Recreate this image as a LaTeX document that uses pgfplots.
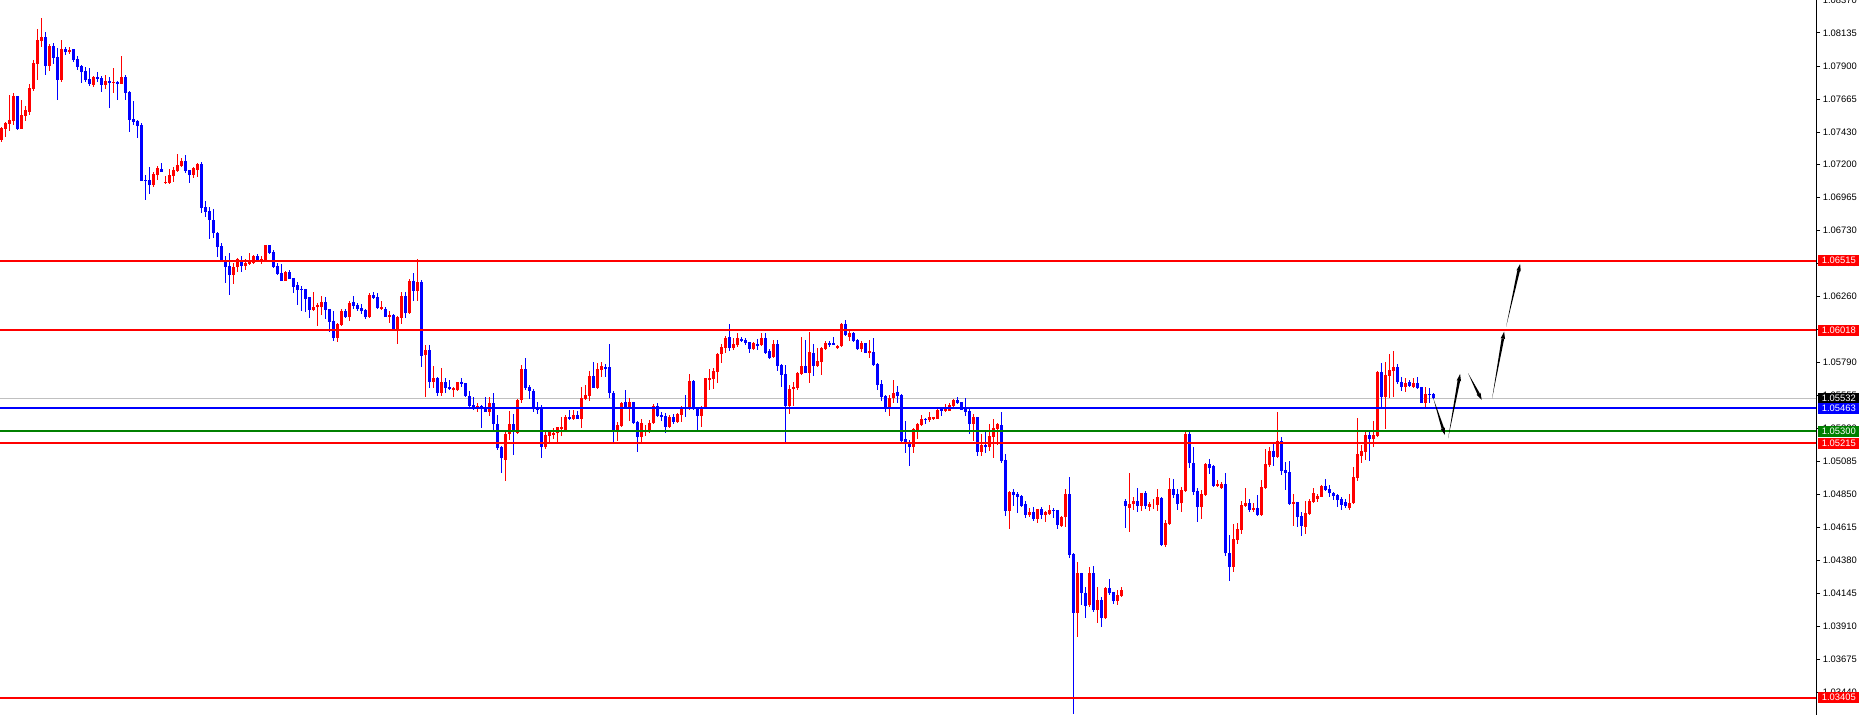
\documentclass[border=0pt]{standalone}
\usepackage{pgfplots}
\pgfplotsset{compat=1.18}
\usepackage{pgfplotstable}
\usetikzlibrary{calc}
\usepackage{fontspec}
\setmainfont{Liberation Sans}
\definecolor{mtred}{RGB}{255,0,0}
\definecolor{mtblue}{RGB}{0,0,255}
\definecolor{mtgreen}{RGB}{0,128,0}
\definecolor{mtgray}{RGB}{192,192,192}
\newcommand{\lblfont}{\fontsize{4.7}{5}\selectfont}

\pgfplotstableread{
k o h l c
0 1.07374 1.07468 1.07362 1.07457
1 1.07452 1.07502 1.07397 1.07492
2 1.07487 1.07694 1.07440 1.07516
3 1.07511 1.07706 1.07480 1.07687
4 1.07687 1.07687 1.07445 1.07452
5 1.07452 1.07658 1.07452 1.07552
6 1.07547 1.07616 1.07511 1.07587
7 1.07575 1.07772 1.07552 1.07744
8 1.07737 1.07943 1.07725 1.07922
9 1.07915 1.08164 1.07801 1.08085
10 1.08081 1.08242 1.08038 1.08107
11 1.08107 1.08142 1.07836 1.07903
12 1.07903 1.08057 1.07865 1.08043
13 1.08043 1.08064 1.07915 1.07960
14 1.07964 1.08028 1.07658 1.07801
15 1.07801 1.08085 1.07786 1.08021
16 1.08021 1.08033 1.07979 1.07999
17 1.07999 1.08033 1.07986 1.08014
18 1.08021 1.08021 1.07929 1.07943
19 1.07948 1.07971 1.07872 1.07896
20 1.07900 1.07907 1.07779 1.07858
21 1.07865 1.07893 1.07786 1.07801
22 1.07808 1.07886 1.07759 1.07772
23 1.07765 1.07829 1.07751 1.07820
24 1.07822 1.07858 1.07786 1.07808
25 1.07815 1.07829 1.07715 1.07765
26 1.07765 1.07836 1.07737 1.07794
27 1.07794 1.07822 1.07601 1.07779
28 1.07782 1.07886 1.07708 1.07786
29 1.07789 1.07794 1.07658 1.07775
30 1.07772 1.07971 1.07772 1.07822
31 1.07822 1.07836 1.07658 1.07708
32 1.07715 1.07722 1.07431 1.07516
33 1.07523 1.07651 1.07480 1.07502
34 1.07509 1.07516 1.07388 1.07473
35 1.07480 1.07495 1.07082 1.07082
36 1.07089 1.07124 1.06947 1.07082
37 1.07089 1.07181 1.06989 1.07053
38 1.07053 1.07146 1.07039 1.07132
39 1.07124 1.07188 1.07089 1.07174
40 1.07167 1.07210 1.07146 1.07146
41 1.07068 1.07117 1.07060 1.07075
42 1.07068 1.07167 1.07060 1.07124
43 1.07117 1.07181 1.07075 1.07160
44 1.07153 1.07274 1.07146 1.07196
45 1.07188 1.07245 1.07181 1.07224
46 1.07224 1.07267 1.07139 1.07153
47 1.07160 1.07160 1.07068 1.07124
48 1.07124 1.07181 1.07103 1.07174
49 1.07160 1.07210 1.07110 1.07203
50 1.07203 1.07217 1.06852 1.06887
51 1.06899 1.06942 1.06828 1.06861
52 1.06868 1.06894 1.06669 1.06804
53 1.06804 1.06883 1.06674 1.06709
54 1.06709 1.06716 1.06543 1.06614
55 1.06619 1.06643 1.06508 1.06520
56 1.06520 1.06548 1.06358 1.06472
57 1.06477 1.06572 1.06270 1.06413
58 1.06413 1.06496 1.06349 1.06467
59 1.06467 1.06534 1.06437 1.06524
60 1.06520 1.06550 1.06437 1.06477
61 1.06479 1.06524 1.06448 1.06501
62 1.06491 1.06567 1.06486 1.06510
63 1.06501 1.06558 1.06498 1.06548
64 1.06548 1.06562 1.06508 1.06520
65 1.06512 1.06546 1.06493 1.06529
66 1.06512 1.06624 1.06508 1.06624
67 1.06624 1.06624 1.06562 1.06572
68 1.06576 1.06591 1.06463 1.06472
69 1.06477 1.06496 1.06413 1.06418
70 1.06425 1.06491 1.06372 1.06372
71 1.06372 1.06444 1.06372 1.06434
72 1.06434 1.06448 1.06382 1.06384
73 1.06389 1.06391 1.06287 1.06330
74 1.06342 1.06365 1.06199 1.06306
75 1.06313 1.06334 1.06159 1.06308
76 1.06313 1.06313 1.06152 1.06244
77 1.06254 1.06254 1.06104 1.06164
78 1.06164 1.06292 1.06161 1.06185
79 1.06183 1.06211 1.06050 1.06202
80 1.06183 1.06263 1.06128 1.06221
81 1.06221 1.06259 1.06097 1.06164
82 1.06168 1.06168 1.06009 1.06081
83 1.06085 1.06159 1.05943 1.05967
84 1.05967 1.06074 1.05938 1.06064
85 1.06057 1.06168 1.06052 1.06157
86 1.06157 1.06171 1.06104 1.06116
87 1.06111 1.06230 1.06083 1.06213
88 1.06218 1.06263 1.06168 1.06192
89 1.06197 1.06216 1.06157 1.06171
90 1.06178 1.06206 1.06135 1.06154
91 1.06161 1.06168 1.06100 1.06111
92 1.06111 1.06282 1.06109 1.06270
93 1.06270 1.06292 1.06242 1.06251
94 1.06254 1.06282 1.06168 1.06178
95 1.06168 1.06230 1.06164 1.06183
96 1.06173 1.06183 1.06114 1.06116
97 1.06116 1.06159 1.06069 1.06128
98 1.06128 1.06133 1.06021 1.06026
99 1.06026 1.06123 1.05924 1.06114
100 1.06109 1.06289 1.06064 1.06261
101 1.06266 1.06289 1.06109 1.06140
102 1.06145 1.06384 1.06135 1.06372
103 1.06372 1.06427 1.06230 1.06301
104 1.06301 1.06530 1.06230 1.06365
105 1.06365 1.06377 1.05756 1.05839
106 1.05843 1.05915 1.05547 1.05879
107 1.05879 1.05915 1.05611 1.05654
108 1.05654 1.05767 1.05611 1.05682
109 1.05682 1.05689 1.05552 1.05575
110 1.05575 1.05748 1.05554 1.05654
111 1.05649 1.05682 1.05575 1.05611
112 1.05618 1.05665 1.05594 1.05599
113 1.05592 1.05618 1.05547 1.05606
114 1.05594 1.05654 1.05590 1.05651
115 1.05651 1.05680 1.05618 1.05639
116 1.05644 1.05644 1.05547 1.05552
117 1.05554 1.05587 1.05476 1.05480
118 1.05487 1.05547 1.05452 1.05471
119 1.05471 1.05499 1.05440 1.05483
120 1.05480 1.05487 1.05326 1.05471
121 1.05476 1.05547 1.05440 1.05440
122 1.05440 1.05547 1.05409 1.05504
123 1.05504 1.05571 1.05310 1.05352
124 1.05352 1.05416 1.05167 1.05184
125 1.05191 1.05196 1.05006 1.05108
126 1.05096 1.05310 1.04949 1.05281
127 1.05281 1.05447 1.05238 1.05352
128 1.05352 1.05423 1.05133 1.05310
129 1.05291 1.05528 1.05281 1.05523
130 1.05523 1.05772 1.05499 1.05744
131 1.05744 1.05822 1.05594 1.05611
132 1.05616 1.05630 1.05528 1.05587
133 1.05587 1.05601 1.05440 1.05457
134 1.05464 1.05506 1.05423 1.05452
135 1.05476 1.05487 1.05113 1.05191
136 1.05191 1.05298 1.05172 1.05274
137 1.05269 1.05310 1.05222 1.05298
138 1.05276 1.05321 1.05245 1.05291
139 1.05286 1.05333 1.05222 1.05329
140 1.05314 1.05404 1.05269 1.05333
141 1.05310 1.05416 1.05305 1.05404
142 1.05404 1.05452 1.05381 1.05390
143 1.05390 1.05452 1.05388 1.05416
144 1.05416 1.05447 1.05388 1.05390
145 1.05390 1.05613 1.05326 1.05537
146 1.05533 1.05630 1.05523 1.05559
147 1.05552 1.05729 1.05516 1.05694
148 1.05694 1.05796 1.05606 1.05611
149 1.05611 1.05789 1.05606 1.05741
150 1.05737 1.05794 1.05689 1.05765
151 1.05760 1.05777 1.05689 1.05744
152 1.05756 1.05922 1.05535 1.05575
153 1.05575 1.05587 1.05227 1.05305
154 1.05310 1.05369 1.05234 1.05345
155 1.05340 1.05511 1.05333 1.05499
156 1.05511 1.05594 1.05464 1.05464
157 1.05476 1.05540 1.05374 1.05511
158 1.05511 1.05511 1.05350 1.05362
159 1.05369 1.05376 1.05155 1.05262
160 1.05262 1.05385 1.05222 1.05357
161 1.05293 1.05345 1.05267 1.05305
162 1.05293 1.05381 1.05286 1.05357
163 1.05357 1.05495 1.05352 1.05483
164 1.05483 1.05499 1.05400 1.05412
165 1.05416 1.05440 1.05371 1.05404
166 1.05409 1.05428 1.05291 1.05333
167 1.05333 1.05419 1.05329 1.05400
168 1.05400 1.05423 1.05352 1.05369
169 1.05369 1.05428 1.05362 1.05423
170 1.05416 1.05483 1.05369 1.05476
171 1.05476 1.05559 1.05404 1.05459
172 1.05459 1.05708 1.05454 1.05661
173 1.05661 1.05665 1.05454 1.05459
174 1.05464 1.05476 1.05310 1.05412
175 1.05412 1.05483 1.05333 1.05471
176 1.05471 1.05682 1.05464 1.05677
177 1.05665 1.05741 1.05594 1.05682
178 1.05675 1.05751 1.05601 1.05732
179 1.05725 1.05855 1.05642 1.05850
180 1.05848 1.05922 1.05784 1.05903
181 1.05896 1.05979 1.05855 1.05964
182 1.05974 1.06064 1.05874 1.05896
183 1.05893 1.05962 1.05879 1.05922
184 1.05912 1.05998 1.05898 1.05967
185 1.05960 1.05969 1.05936 1.05945
186 1.05950 1.05962 1.05915 1.05931
187 1.05938 1.05938 1.05860 1.05888
188 1.05886 1.05938 1.05879 1.05926
189 1.05922 1.05955 1.05879 1.05907
190 1.05912 1.06002 1.05907 1.05964
191 1.05964 1.05998 1.05850 1.05860
192 1.05872 1.05884 1.05817 1.05820
193 1.05831 1.05950 1.05824 1.05922
194 1.05922 1.05950 1.05732 1.05765
195 1.05770 1.05779 1.05618 1.05701
196 1.05708 1.05772 1.05226 1.05480
197 1.05480 1.05630 1.05423 1.05601
198 1.05601 1.05653 1.05483 1.05616
199 1.05609 1.05720 1.05594 1.05713
200 1.05708 1.05969 1.05701 1.05765
201 1.05765 1.05950 1.05713 1.05718
202 1.05718 1.06007 1.05646 1.05865
203 1.05855 1.05922 1.05696 1.05765
204 1.05765 1.05891 1.05756 1.05801
205 1.05794 1.05898 1.05701 1.05891
206 1.05886 1.05943 1.05879 1.05926
207 1.05926 1.05943 1.05903 1.05915
208 1.05926 1.05974 1.05912 1.05915
209 1.05891 1.05915 1.05888 1.05907
210 1.05907 1.06073 1.05898 1.06064
211 1.06064 1.06092 1.05979 1.05986
212 1.05974 1.06021 1.05945 1.06002
213 1.06002 1.06009 1.05938 1.05945
214 1.05950 1.05955 1.05879 1.05884
215 1.05884 1.05945 1.05867 1.05926
216 1.05926 1.05931 1.05855 1.05860
217 1.05855 1.05950 1.05820 1.05874
218 1.05867 1.05962 1.05767 1.05772
219 1.05777 1.05784 1.05594 1.05630
220 1.05637 1.05665 1.05518 1.05547
221 1.05552 1.05559 1.05440 1.05471
222 1.05471 1.05559 1.05412 1.05535
223 1.05535 1.05665 1.05504 1.05571
224 1.05578 1.05623 1.05504 1.05554
225 1.05559 1.05566 1.05219 1.05231
226 1.05243 1.05374 1.05148 1.05215
227 1.05215 1.05238 1.05053 1.05191
228 1.05191 1.05321 1.05148 1.05314
229 1.05310 1.05362 1.05246 1.05352
230 1.05348 1.05416 1.05340 1.05385
231 1.05390 1.05397 1.05355 1.05383
232 1.05383 1.05435 1.05369 1.05402
233 1.05385 1.05404 1.05381 1.05400
234 1.05388 1.05457 1.05388 1.05452
235 1.05457 1.05471 1.05412 1.05447
236 1.05447 1.05495 1.05442 1.05457
237 1.05447 1.05499 1.05447 1.05488
238 1.05480 1.05528 1.05476 1.05523
239 1.05523 1.05544 1.05495 1.05504
240 1.05506 1.05506 1.05452 1.05454
241 1.05476 1.05537 1.05409 1.05440
242 1.05445 1.05457 1.05281 1.05352
243 1.05352 1.05426 1.05231 1.05402
244 1.05402 1.05402 1.05125 1.05155
245 1.05155 1.05281 1.05127 1.05203
246 1.05203 1.05298 1.05148 1.05191
247 1.05191 1.05352 1.05162 1.05269
248 1.05262 1.05388 1.05113 1.05321
249 1.05317 1.05362 1.05200 1.05350
250 1.05348 1.05435 1.05077 1.05091
251 1.05096 1.05139 1.04697 1.04735
252 1.04735 1.04878 1.04607 1.04871
253 1.04868 1.04887 1.04769 1.04847
254 1.04854 1.04868 1.04721 1.04835
255 1.04842 1.04847 1.04764 1.04771
256 1.04783 1.04807 1.04686 1.04705
257 1.04705 1.04754 1.04693 1.04726
258 1.04726 1.04762 1.04664 1.04676
259 1.04676 1.04750 1.04650 1.04747
260 1.04747 1.04762 1.04678 1.04705
261 1.04705 1.04733 1.04657 1.04724
262 1.04709 1.04773 1.04705 1.04740
263 1.04743 1.04752 1.04686 1.04735
264 1.04740 1.04740 1.04605 1.04633
265 1.04626 1.04700 1.04617 1.04693
266 1.04688 1.04890 1.04617 1.04854
267 1.04854 1.04973 1.04401 1.04420
268 1.04427 1.04432 1.03290 1.04009
269 1.04009 1.04368 1.03839 1.04294
270 1.04294 1.04294 1.04064 1.04152
271 1.04152 1.04194 1.03969 1.04057
272 1.04064 1.04337 1.04052 1.04294
273 1.04294 1.04344 1.04012 1.04028
274 1.04028 1.04190 1.03938 1.04100
275 1.04100 1.04119 1.03910 1.03971
276 1.03971 1.04194 1.03969 1.04187
277 1.04187 1.04249 1.04135 1.04147
278 1.04159 1.04159 1.04071 1.04092
279 1.04092 1.04171 1.04064 1.04135
280 1.04130 1.04190 1.04123 1.04171
281 1.04804 1.04818 1.04610 1.04769
282 1.04757 1.05003 1.04586 1.04783
283 1.04780 1.04835 1.04740 1.04804
284 1.04804 1.04894 1.04728 1.04769
285 1.04769 1.04863 1.04735 1.04859
286 1.04863 1.04878 1.04747 1.04769
287 1.04764 1.04795 1.04735 1.04783
288 1.04778 1.04818 1.04745 1.04778
289 1.04776 1.04890 1.04735 1.04830
290 1.04828 1.04830 1.04484 1.04491
291 1.04491 1.04669 1.04479 1.04645
292 1.04640 1.04966 1.04633 1.04890
293 1.04890 1.04961 1.04828 1.04847
294 1.04854 1.04890 1.04740 1.04783
295 1.04788 1.04901 1.04728 1.04882
296 1.04878 1.05293 1.04871 1.05281
297 1.05281 1.05293 1.05037 1.05072
298 1.05072 1.05191 1.04847 1.04871
299 1.04875 1.04899 1.04657 1.04764
300 1.04764 1.04882 1.04676 1.04854
301 1.04847 1.05077 1.04842 1.05068
302 1.05068 1.05101 1.04996 1.05037
303 1.05053 1.05060 1.04901 1.04913
304 1.04911 1.04954 1.04906 1.04925
305 1.04894 1.04937 1.04890 1.04925
306 1.04925 1.05006 1.04415 1.04432
307 1.04432 1.04562 1.04237 1.04337
308 1.04337 1.04640 1.04296 1.04531
309 1.04527 1.04645 1.04498 1.04603
310 1.04598 1.04807 1.04569 1.04776
311 1.04769 1.04897 1.04764 1.04788
312 1.04788 1.04816 1.04728 1.04740
313 1.04740 1.04788 1.04728 1.04757
314 1.04757 1.04847 1.04700 1.04705
315 1.04705 1.04954 1.04700 1.04901
316 1.04897 1.05174 1.04894 1.05068
317 1.05060 1.05191 1.05049 1.05160
318 1.05160 1.05210 1.05056 1.05120
319 1.05120 1.05438 1.05115 1.05231
320 1.05231 1.05262 1.04987 1.05018
321 1.05025 1.05084 1.04882 1.05006
322 1.05013 1.05089 1.04776 1.04783
323 1.04783 1.04854 1.04629 1.04795
324 1.04799 1.04799 1.04622 1.04693
325 1.04700 1.04724 1.04557 1.04626
326 1.04622 1.04804 1.04569 1.04716
327 1.04712 1.04818 1.04705 1.04807
328 1.04799 1.04894 1.04795 1.04859
329 1.04818 1.04852 1.04799 1.04840
330 1.04835 1.04918 1.04835 1.04911
331 1.04911 1.04961 1.04878 1.04882
332 1.04887 1.04918 1.04830 1.04859
333 1.04863 1.04871 1.04811 1.04842
334 1.04847 1.04854 1.04764 1.04811
335 1.04818 1.04830 1.04740 1.04776
336 1.04799 1.04816 1.04752 1.04769
337 1.04752 1.04852 1.04740 1.04788
338 1.04788 1.05049 1.04781 1.04977
339 1.04970 1.05393 1.04949 1.05139
340 1.05125 1.05203 1.05077 1.05163
341 1.05155 1.05298 1.05096 1.05272
342 1.05272 1.05295 1.05091 1.05243
343 1.05243 1.05376 1.05191 1.05272
344 1.05267 1.05732 1.05262 1.05725
345 1.05725 1.05784 1.05471 1.05547
346 1.05547 1.05796 1.05317 1.05701
347 1.05696 1.05851 1.05540 1.05737
348 1.05732 1.05874 1.05547 1.05760
349 1.05760 1.05779 1.05637 1.05649
350 1.05654 1.05689 1.05587 1.05618
351 1.05618 1.05677 1.05582 1.05642
352 1.05654 1.05665 1.05613 1.05623
353 1.05618 1.05677 1.05606 1.05646
354 1.05646 1.05689 1.05601 1.05606
355 1.05613 1.05618 1.05499 1.05504
356 1.05504 1.05618 1.05471 1.05566
357 1.05566 1.05611 1.05504 1.05563
358 1.05566 1.05575 1.05530 1.05535
}\data

% tapered hand-drawn arrow: tail (#1,#2) -> tip (#3,#4)
\newcommand{\tarrow}[4]{%
  \coordinate (TA) at (axis cs:#1,#2);
  \coordinate (TB) at (axis cs:#3,#4);
  \coordinate (TC) at ($(TB)!3.5pt!(TA)$);
  \fill[black] (TA) -- ($(TC)!0.65pt!90:(TB)$) -- ($(TC)!0.65pt!-90:(TB)$) -- cycle;
  \fill[black] (TB) -- ($(TC)!1.1pt!90:(TB)$) -- ($(TC)!1.1pt!-90:(TB)$) -- cycle;
}

\newcommand{\hlevel}[3]{\addplot[#1, line width=#2, forget plot] coordinates {(-0.3325,#3) (453.67,#3)};}

\pgfplotsset{candle/.style={forget plot, draw=none, mark=none,
  error bars/y explicit, error bars/error mark=none}}

\begin{document}
\begin{tikzpicture}
\begin{axis}[
  scale only axis, width=908pt, height=357.5pt,
  xmin=-0.3325, xmax=453.67, ymin=1.03281, ymax=1.08370,
  axis x line=none, axis y line*=right,
  axis line style={-, black, line width=0.5pt},
  xtick=\empty,
  scaled y ticks=false,
  ytick={1.08370,1.08135,1.07900,1.07665,1.07430,1.07200,1.06965,1.06730,1.06495,1.06260,1.06025,1.05790,1.05555,1.05320,1.05085,1.04850,1.04615,1.04380,1.04145,1.03910,1.03675,1.03440},
  yticklabels={1.08370,1.08135,1.07900,1.07665,1.07430,1.07200,1.06965,1.06730,1.06495,1.06260,1.06025,1.05790,1.05555,1.05320,1.05085,1.04850,1.04615,1.04380,1.04145,1.03910,1.03675,1.03440},
  tick align=outside, major tick length=2pt,
  tick style={black, line width=0.5pt},
  yticklabel style={font=\lblfont, anchor=west, inner sep=0pt, xshift=1.2pt},
  clip=false,
]
% bid line
\hlevel{mtgray}{0.5pt}{1.05532}
% wicks
\addplot[candle, restrict expr to domain={\thisrow{c}-\thisrow{o}}{0:1},
  error bars/y dir=both, error bars/error bar style={draw=mtred, line width=0.5pt}]
  table[x=k, y=o, y error plus expr=\thisrow{h}-\thisrow{o}, y error minus expr=\thisrow{o}-\thisrow{l}] {\data};
\addplot[candle, restrict expr to domain={\thisrow{c}-\thisrow{o}}{-1:-0.000001},
  error bars/y dir=both, error bars/error bar style={draw=mtblue, line width=0.5pt}]
  table[x=k, y=o, y error plus expr=\thisrow{h}-\thisrow{o}, y error minus expr=\thisrow{o}-\thisrow{l}] {\data};
% bodies
\addplot[candle, restrict expr to domain={\thisrow{c}-\thisrow{o}}{0:1},
  error bars/y dir=plus, error bars/error bar style={draw=mtred, line width=1.5pt}]
  table[x=k, y=o, y error plus expr=\thisrow{c}-\thisrow{o}] {\data};
\addplot[candle, restrict expr to domain={\thisrow{c}-\thisrow{o}}{-1:-0.000001},
  error bars/y dir=plus, error bars/error bar style={draw=mtblue, line width=1.5pt}]
  table[x=k, y=c, y error plus expr=\thisrow{o}-\thisrow{c}] {\data};
% horizontal levels
\hlevel{mtred}{1pt}{1.06515}
\hlevel{mtred}{1pt}{1.06018}
\hlevel{mtblue}{1pt}{1.05463}
\hlevel{mtgreen}{1pt}{1.05300}
\hlevel{mtred}{1pt}{1.05215}
\hlevel{mtred}{1pt}{1.03405}
% price boxes
\tikzset{pbox/.style={fill=#1, text=white, font=\lblfont, anchor=west, minimum width=20.7pt, minimum height=5.4pt, inner sep=0pt, xshift=0.85pt}}
\node[pbox=mtred] at (axis cs:453.67,1.06515) {1.06515};
\node[pbox=mtred] at (axis cs:453.67,1.06018) {1.06018};
\node[pbox=black] at (axis cs:453.67,1.05532) {1.05532};
\node[pbox=mtblue] at (axis cs:453.67,1.05463) {1.05463};
\node[pbox=mtgreen] at (axis cs:453.67,1.05300) {1.05300};
\node[pbox=mtred] at (axis cs:453.67,1.05215) {1.05215};
\node[pbox=mtred] at (axis cs:453.67,1.03405) {1.03405};
% arrows
\tarrow{358.0}{1.05535}{360.9}{1.05274}
\tarrow{361.7}{1.05250}{364.7}{1.05708}
\tarrow{366.7}{1.05713}{370.1}{1.05523}
\tarrow{372.7}{1.05535}{375.7}{1.06009}
\tarrow{376.2}{1.06045}{379.7}{1.06491}
\end{axis}
\pgfresetboundingbox
\path[use as bounding box] (0,0) rectangle (929.5pt,357.5pt);
\end{tikzpicture}
\end{document}
